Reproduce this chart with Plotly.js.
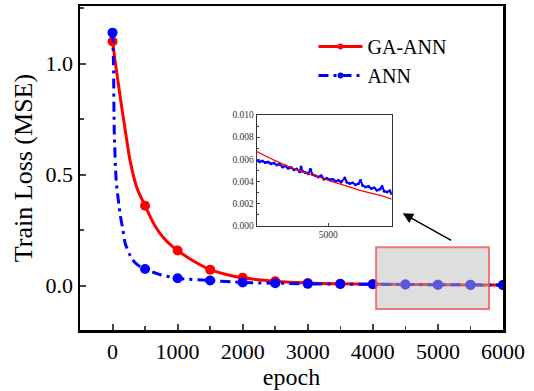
<!DOCTYPE html>
<html>
<head>
<meta charset="utf-8">
<script src="https://cdn.plot.ly/plotly-3.0.1.min.js"></script>
<style>html,body{margin:0;padding:0;background:#fff;}#chart{width:534px;height:391px;}</style>
</head>
<body>
<div id="chart"></div>
<script>
// Main curves
const gaEpoch = [0, 50, 118, 195, 272, 375, 500, 650, 800, 1000, 1250, 1500, 1750, 2000, 2500, 3000, 3500, 4000, 4500, 5000, 5500, 6000];
const gaLoss  = [1.10, 0.99, 0.85, 0.70, 0.56, 0.44, 0.36, 0.27, 0.21, 0.158, 0.11, 0.072, 0.05, 0.035, 0.02, 0.012, 0.008, 0.0066, 0.0052, 0.0041, 0.0031, 0.0023];
const annEpoch = [0, 15, 26, 57, 118, 160, 195, 298, 400, 500, 750, 1000, 1500, 2000, 2500, 3000, 3500, 4000, 4500, 5000, 5500, 6000];
const annLoss  = [1.14, 1.0, 0.70, 0.47, 0.32, 0.25, 0.19, 0.12, 0.09, 0.075, 0.048, 0.033, 0.023, 0.014, 0.011, 0.008, 0.007, 0.0059, 0.0048, 0.0041, 0.0035, 0.0028];

// Inset (zoom of 4000–5880)
const insetGaEpoch = [4000, 4250, 4500, 4750, 5000, 5250, 5500, 5750, 5885];
const insetGaLoss  = [0.0067, 0.0059, 0.0052, 0.00465, 0.0041, 0.0036, 0.0031, 0.0027, 0.0024];
const insetAnnEpoch = [4000,4040,4080,4120,4160,4200,4240,4280,4320,4360,4400,4440,4480,4520,4560,4600,4620,4640,4680,4720,4750,4780,4820,4860,4900,4940,4980,5020,5060,5100,5140,5180,5230,5260,5300,5340,5380,5420,5450,5480,5520,5560,5600,5640,5680,5720,5750,5780,5820,5860,5880];
const insetAnnLoss  = [0.00590,0.00578,0.00584,0.00570,0.00575,0.00560,0.00566,0.00548,0.00556,0.00530,0.00540,0.00518,0.00526,0.00505,0.00512,0.00488,0.00530,0.00492,0.00480,0.00470,0.00510,0.00462,0.00450,0.00440,0.00452,0.00420,0.00428,0.00415,0.00420,0.00402,0.00410,0.00395,0.00430,0.00392,0.00380,0.00388,0.00370,0.00378,0.00410,0.00362,0.00350,0.00356,0.00335,0.00342,0.00320,0.00330,0.00355,0.00312,0.00305,0.00315,0.00290];

const seriesNames = ['GA-ANN', 'ANN'];
const xTicks = [0, 1000, 2000, 3000, 4000, 5000, 6000];
const yTicks = [0.0, 0.5, 1.0];
const insetYTicks = [0.000, 0.002, 0.004, 0.006, 0.008, 0.010];
const insetXTicks = [5000];

const RED = '#ff0000', BLUE = '#0000ff';
const FONT = 'Liberation Serif, Times New Roman, serif';
const msize = arr => arr.map(e => (e % 500 === 0 ? 10 : 0));

const traces = [
  {x: gaEpoch, y: gaLoss, name: seriesNames[0], mode: 'lines+markers',
   line: {color: RED, width: 3, shape: 'spline', smoothing: 0.8},
   marker: {color: RED, size: msize(gaEpoch), opacity: 1, line: {width: 0}}, xaxis: 'x', yaxis: 'y'},
  {x: annEpoch, y: annLoss, name: seriesNames[1], mode: 'lines+markers',
   line: {color: BLUE, width: 3, dash: '10px,5px,3px,5px', shape: 'spline', smoothing: 0.6},
   marker: {color: BLUE, size: msize(annEpoch), opacity: 1, line: {width: 0}}, xaxis: 'x', yaxis: 'y'},
  {x: insetAnnEpoch, y: insetAnnLoss, mode: 'lines+markers', showlegend: false,
   line: {color: BLUE, width: 2}, marker: {color: BLUE, size: 3, opacity: 1}, xaxis: 'x2', yaxis: 'y2'},
  {x: insetGaEpoch, y: insetGaLoss, mode: 'lines', showlegend: false,
   line: {color: RED, width: 1.3, shape: 'spline'}, xaxis: 'x2', yaxis: 'y2'}
];

const axFont = {family: FONT, size: 22, color: '#000'};
const layout = {
  width: 534, height: 391,
  margin: {l: 80, r: 31, t: 6, b: 61},
  paper_bgcolor: '#fff', plot_bgcolor: '#fff',
  showlegend: true,
  legend: {x: 0.552, y: 0.935, xanchor: 'left', yanchor: 'top', bgcolor: 'rgba(0,0,0,0)',
           font: {family: FONT, size: 20, color: '#000'}, itemwidth: 44, tracegroupgap: 0},
  xaxis: {range: [-500, 6000], tickvals: xTicks, ticks: 'inside', ticklen: 6, tickwidth: 2,
          minor: {dtick: 500, tick0: 0, ticks: 'inside', ticklen: 4, tickwidth: 1.5},
          showline: true, linewidth: 2.5, linecolor: '#000', mirror: true, showgrid: false, zeroline: false,
          tickfont: axFont, title: {text: 'epoch', font: {family: FONT, size: 24, color: '#000'}, standoff: 4}},
  yaxis: {range: [-0.2, 1.26], tickvals: yTicks, tickformat: '.1f', ticks: 'inside', ticklen: 6, tickwidth: 2,
          minor: {dtick: 0.25, tick0: 0, ticks: 'inside', ticklen: 4, tickwidth: 1.5},
          showline: true, linewidth: 2.5, linecolor: '#000', mirror: true, showgrid: false, zeroline: false,
          tickfont: axFont, title: {text: 'Train Loss (MSE)', font: {family: FONT, size: 26, color: '#000'}, standoff: 6}},
  xaxis2: {domain: [0.4177, 0.7369], anchor: 'y2', range: [4000, 5885], tickvals: insetXTicks,
           ticks: 'inside', ticklen: 3, showline: true, linewidth: 1, linecolor: '#333', mirror: true,
           showgrid: false, zeroline: false, tickfont: {family: FONT, size: 9.5, color: '#333'}},
  yaxis2: {domain: [0.322, 0.6636], anchor: 'x2', range: [0, 0.010], tickvals: insetYTicks, tickformat: '.3f',
           ticks: 'inside', ticklen: 3, minor: {dtick: 0.001, ticks: 'inside', ticklen: 2},
           showline: true, linewidth: 1, linecolor: '#333', mirror: true,
           showgrid: false, zeroline: false, tickfont: {family: FONT, size: 9.5, color: '#333'}},
  shapes: [
    {type: 'rect', xref: 'x', yref: 'y', x0: 4050, x1: 5785, y0: -0.105, y1: 0.173, layer: 'above',
     fillcolor: 'rgba(185,185,185,0.48)', line: {color: 'rgba(240,90,90,0.8)', width: 2}}
  ],
  annotations: [
    {xref: 'paper', yref: 'paper', x: 0.7629, y: 0.3602, ax: 50, ay: 28, showarrow: true,
     arrowhead: 2, arrowsize: 1.4, arrowwidth: 1.5, arrowcolor: '#000', text: ''}
  ]
};

Plotly.newPlot('chart', traces, layout, {displayModeBar: false, staticPlot: true});
</script>
</body>
</html>
